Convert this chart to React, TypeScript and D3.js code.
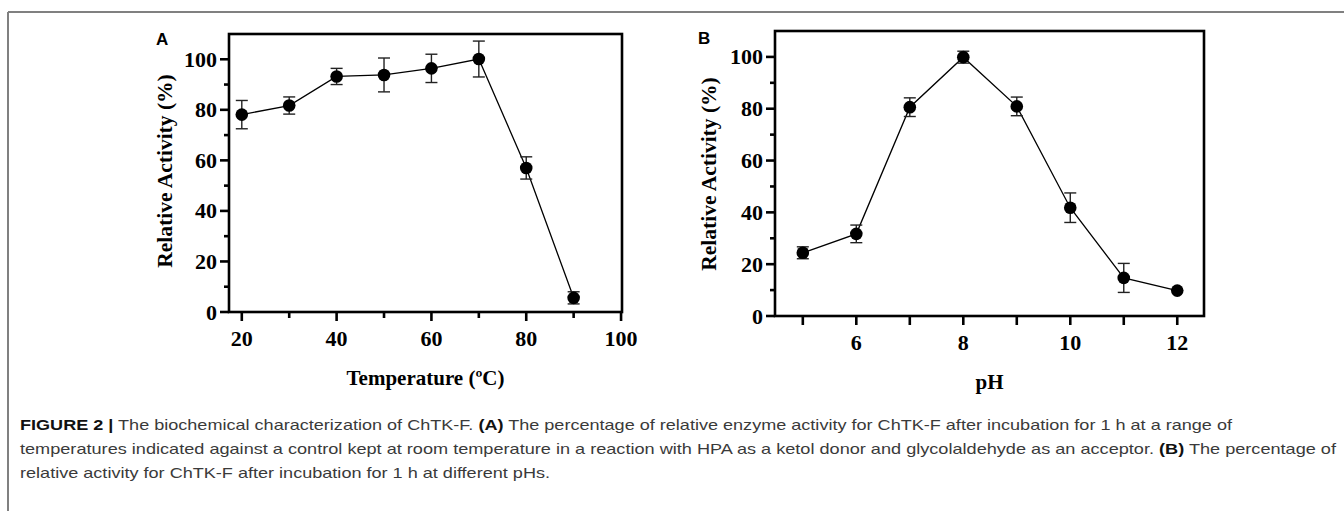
import React from "react";
import * as d3 from "d3";

// panel A: temperature
const tempX = [20, 30, 40, 50, 60, 70, 80, 90];
const tempY = [78.1, 81.7, 93.2, 93.8, 96.4, 100.1, 57, 5.6];
const tempErr = [5.6, 3.4, 3.2, 6.7, 5.6, 7.1, 4.4, 2.4];
const tempMajor = [20, 40, 60, 80, 100];
const tempMinor = [30, 50, 70, 90];

// panel B: pH
const phX = [5, 6, 7, 8, 9, 10, 11, 12];
const phY = [24.4, 31.7, 80.6, 99.9, 80.9, 41.8, 14.7, 9.8];
const phErr = [2.3, 3.4, 3.6, 2.3, 3.6, 5.7, 5.6, 0];
const phTicks = [5, 6, 7, 8, 9, 10, 11, 12];
const phLabels = [6, 8, 10, 12];

const yMajor = [0, 20, 40, 60, 80, 100];
const yMinor = [10, 30, 50, 70, 90];

const serif = "'Liberation Serif', 'Times New Roman', serif";
const sans = "'Liberation Sans', Arial, sans-serif";

const Panel = (props) => {
  const { box, xDomain, xs, ys, errs, xMajor, xMinor, xLabels, title, yTitleX, yTitleY, letter, letterX, letterY } = props;
  const x = d3.scaleLinear().domain(xDomain).range([box.left, box.right]);
  const y = d3.scaleLinear().domain([0, 110]).range([box.bottom, box.top]);
  const line = d3.line().x((d) => x(d[0])).y((d) => y(d[1]));
  const pts = xs.map((v, i) => [v, ys[i]]);
  const sw = 2.6;

  return (
    <g>
      <text x={letterX} y={letterY} fontFamily={sans} fontWeight="bold" fontSize={17}>{letter}</text>
      <rect x={box.left} y={box.top} width={box.right - box.left} height={box.bottom - box.top}
        fill="none" stroke="#000" strokeWidth={sw} />
      {yMajor.map((t) => (
        <g key={"ym" + t}>
          <line x1={box.left - 9} x2={box.left} y1={y(t)} y2={y(t)} stroke="#000" strokeWidth={sw} />
          <text x={box.left - 12} y={y(t) + 7.5} textAnchor="end" fontFamily={serif} fontWeight="bold" fontSize={22}>{t}</text>
        </g>
      ))}
      {yMinor.map((t) => (
        <line key={"yn" + t} x1={box.left - 5} x2={box.left} y1={y(t)} y2={y(t)} stroke="#000" strokeWidth={sw} />
      ))}
      {xMajor.map((t) => (
        <line key={"xm" + t} x1={x(t)} x2={x(t)} y1={box.bottom} y2={box.bottom + 9} stroke="#000" strokeWidth={sw} />
      ))}
      {xMinor.map((t) => (
        <line key={"xn" + t} x1={x(t)} x2={x(t)} y1={box.bottom} y2={box.bottom + 6} stroke="#000" strokeWidth={sw} />
      ))}
      {xLabels.map((t) => (
        <text key={"xl" + t} x={x(t)} y={box.bottom + 34} textAnchor="middle" fontFamily={serif} fontWeight="bold" fontSize={22}>{t}</text>
      ))}
      <path d={line(pts)} fill="none" stroke="#000" strokeWidth={1.3} />
      {pts.map((p, i) => (
        errs[i] > 0 ? (
          <g key={"e" + i} stroke="#222" strokeWidth={1.4}>
            <line x1={x(p[0])} x2={x(p[0])} y1={y(p[1] - errs[i])} y2={y(p[1] + errs[i])} />
            <line x1={x(p[0]) - 6} x2={x(p[0]) + 6} y1={y(p[1] + errs[i])} y2={y(p[1] + errs[i])} />
            <line x1={x(p[0]) - 6} x2={x(p[0]) + 6} y1={y(p[1] - errs[i])} y2={y(p[1] - errs[i])} />
          </g>
        ) : null
      ))}
      {pts.map((p, i) => (
        <circle key={"c" + i} cx={x(p[0])} cy={y(p[1])} r={6.3} fill="#000" />
      ))}
      <text x={(box.left + box.right) / 2} y={box.bottom + 73} textAnchor="middle" fontFamily={serif} fontWeight="bold" fontSize={21}>{title}</text>
      <text transform={`translate(${yTitleX},${yTitleY}) rotate(-90)`} textAnchor="middle" fontFamily={serif} fontWeight="bold" fontSize={21.5}>Relative Activity (%)</text>
    </g>
  );
};

export default function App() {
  return (
    <svg width={1344} height={511} style={{ position: "absolute", left: 0, top: 0, background: "#fff" }}>
      <line x1={8} x2={1344} y1={12} y2={12} stroke="#808080" strokeWidth={2} />
      <line x1={8} x2={8} y1={12} y2={511} stroke="#808080" strokeWidth={2} />
      <Panel box={{ left: 229, right: 622, top: 34, bottom: 312 }} xDomain={[17.3, 100.2]}
        xs={tempX} ys={tempY} errs={tempErr} xMajor={tempMajor} xMinor={tempMinor} xLabels={tempMajor}
        title="Temperature (ºC)" yTitleX={172} yTitleY={171} letter="A" letterX={156} letterY={45} />
      <Panel box={{ left: 775, right: 1204, top: 31, bottom: 316 }} xDomain={[4.48, 12.5]}
        xs={phX} ys={phY} errs={phErr} xMajor={phTicks} xMinor={[]} xLabels={phLabels}
        title="pH" yTitleX={716} yTitleY={174} letter="B" letterX={698} letterY={44} />
      <g fontFamily={sans} fontSize={15} fill="#3a3a3a">
        <text x={20} y={430} textLength={1212} lengthAdjust="spacingAndGlyphs">
          <tspan fontWeight="bold" fill="#111">FIGURE 2 |</tspan> The biochemical characterization of ChTK-F. <tspan fontWeight="bold" fill="#111">(A)</tspan> The percentage of relative enzyme activity for ChTK-F after incubation for 1 h at a range of
        </text>
        <text x={20} y={454} textLength={1316} lengthAdjust="spacingAndGlyphs">
          temperatures indicated against a control kept at room temperature in a reaction with HPA as a ketol donor and glycolaldehyde as an acceptor. <tspan fontWeight="bold" fill="#111">(B)</tspan> The percentage of
        </text>
        <text x={20} y={478} textLength={530} lengthAdjust="spacingAndGlyphs">relative activity for ChTK-F after incubation for 1 h at different pHs.</text>
      </g>
    </svg>
  );
}
